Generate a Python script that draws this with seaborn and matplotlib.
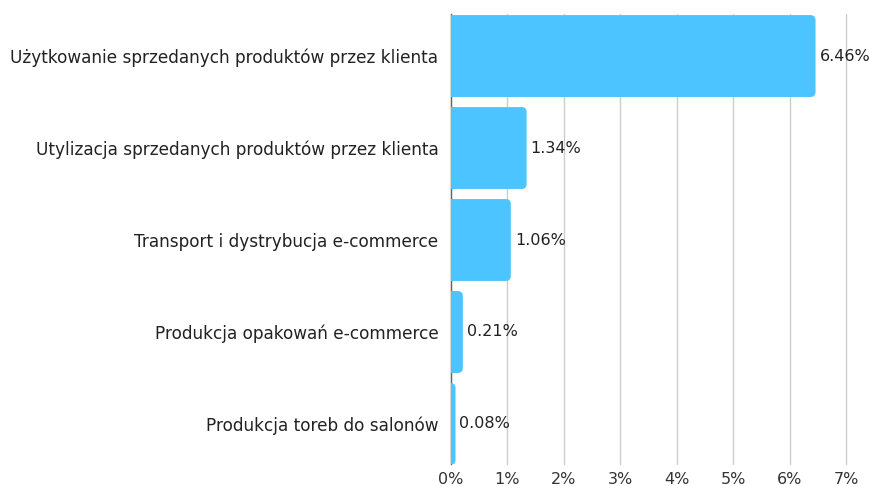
import matplotlib
matplotlib.use("Agg")
import matplotlib.pyplot as plt
import seaborn as sns
import pandas as pd
from matplotlib.patches import FancyBboxPatch

# Dane
kategorie = [
    "Użytkowanie sprzedanych produktów przez klienta",
    "Utylizacja sprzedanych produktów przez klienta",
    "Transport i dystrybucja e-commerce",
    "Produkcja opakowań e-commerce",
    "Produkcja toreb do salonów",
]
wartosci = [6.46, 1.34, 1.06, 0.21, 0.08]
etykiety_x = ["0%", "1%", "2%", "3%", "4%", "5%", "6%", "7%"]

kolor = "#4BC4FF"
df = pd.DataFrame({"kategoria": kategorie, "wartosc": wartosci})

sns.set_style("white")
plt.rcParams["font.family"] = ["DejaVu Sans"]

fig = plt.figure(figsize=(8.69, 4.86), dpi=100)
ax = fig.add_axes([451 / 869, 1 - 464 / 486, (846 - 451) / 869, (464 - 14) / 486])

sns.barplot(data=df, x="wartosc", y="kategoria", color=kolor, orient="h",
            width=0.89, ax=ax, saturation=1)

ax.set_xlim(0, 7)
ax.set_ylim(4.435, -0.457)

# zaokraglone konce slupkow
px_x = 395 / 7
px_y = 92
r = 5 / px_x
for p in list(ax.patches):
    x0, y0 = p.get_x(), p.get_y()
    w, h = p.get_width(), p.get_height()
    p.remove()
    ax.add_patch(FancyBboxPatch((x0 - r, y0), w + r, h,
                                boxstyle=f"round,pad=0,rounding_size={r}",
                                mutation_aspect=px_x / px_y,
                                facecolor=kolor, edgecolor="none", zorder=2))

for i, v in enumerate(wartosci):
    ax.text(v + 0.07, i, f"{v:.2f}%", va="center", ha="left",
            fontsize=11.5, color="#222222")

ax.set_xticks(range(8))
ax.set_xticklabels(etykiety_x)
ax.tick_params(axis="x", length=0, labelsize=11.5, colors="#333333", pad=6)
ax.tick_params(axis="y", length=0, labelsize=12.2, colors="#222222", pad=9)
ax.xaxis.grid(True, color="#cccccc", linewidth=1)
for gl in ax.get_xgridlines():
    gl.set_clip_on(False)
ax.set_axisbelow(True)
ax.set_xlabel("")
ax.set_ylabel("")

sns.despine(ax=ax, top=True, right=True, bottom=True, left=False)
ax.spines["left"].set_color("#666666")
ax.spines["left"].set_linewidth(1)
ax.spines["left"].set_zorder(1)

fig.savefig("out.png", dpi=100)
